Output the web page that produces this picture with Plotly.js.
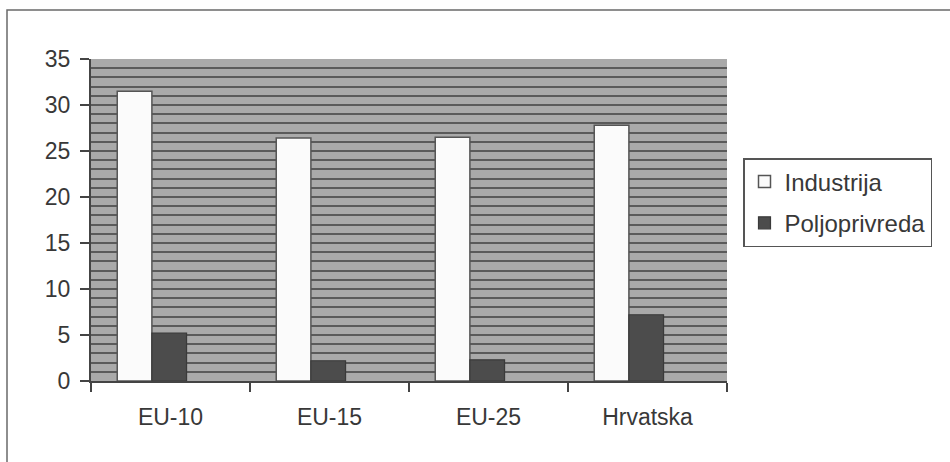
<!DOCTYPE html>
<html>
<head>
<meta charset="utf-8">
<script src="https://cdn.plot.ly/plotly-3.0.1.min.js"></script>
<style>
html,body{margin:0;padding:0;background:#ffffff;}
#chart{width:950px;height:462px;}
</style>
</head>
<body>
<div id="chart"></div>
<script>
const categories = ["EU-10", "EU-15", "EU-25", "Hrvatska"];
const industrija = [31.5, 26.4, 26.5, 27.8];
const poljoprivreda = [5.2, 2.2, 2.3, 7.2];
const seriesNames = ["Industrija", "Poljoprivreda"];
const yTicks = [0, 5, 10, 15, 20, 25, 30, 35];

const textColor = "#383838";
const fontFam = "Liberation Sans, Arial, sans-serif";

const traces = [
  {
    type: "bar",
    name: seriesNames[0],
    x: categories,
    y: industrija,
    offset: -0.335,
    width: 0.218,
    legendgroup: "a",
    marker: {color: "#fbfbfb", line: {color: "#555555", width: 1.5}},
    hoverinfo: "x+y"
  },
  {
    type: "bar",
    name: seriesNames[1],
    x: categories,
    y: poljoprivreda,
    offset: -0.117,
    width: 0.218,
    legendgroup: "b",
    marker: {color: "#4c4c4c", line: {color: "#3a3a3a", width: 1.2}},
    hoverinfo: "x+y"
  }
];

const layout = {
  width: 950,
  height: 462,
  margin: {l: 91, r: 223, t: 59, b: 81, pad: 0},
  paper_bgcolor: "#ffffff",
  plot_bgcolor: "#a9a9a9",
  font: {family: fontFam, color: textColor, size: 23},
  showlegend: true,
  barmode: "group",
  xaxis: {
    type: "category",
    range: [-0.5, 3.5],
    tickson: "boundaries",
    ticks: "outside",
    ticklen: 9,
    tickwidth: 1.5,
    tickcolor: "#444444",
    showline: true,
    linecolor: "#444444",
    linewidth: 2,
    showgrid: false,
    zeroline: false,
    tickfont: {family: fontFam, size: 23, color: textColor},
    ticklabelstandoff: 14,
    fixedrange: true
  },
  yaxis: {
    range: [0, 35],
    tickvals: yTicks,
    ticktext: yTicks.map(String),
    ticks: "outside",
    ticklen: 9,
    tickwidth: 1.5,
    tickcolor: "#444444",
    showline: true,
    linecolor: "#444444",
    linewidth: 2,
    showgrid: true,
    gridcolor: "#5a5a5a",
    gridwidth: 2,
    zeroline: false,
    minor: {dtick: 1, showgrid: true, gridcolor: "#5a5a5a", gridwidth: 2, ticks: ""},
    tickfont: {family: fontFam, size: 23, color: textColor},
    ticklabelstandoff: 5,
    fixedrange: true
  },
  legend: {
    xref: "paper", yref: "paper",
    bgcolor: "#ffffff",
    bordercolor: "#555555",
    borderwidth: 1.5,
    font: {family: fontFam, size: 24, color: textColor},
    traceorder: "grouped",
    tracegroupgap: 7,
    itemwidth: 30
  },
  shapes: [
    {
      type: "rect", xref: "paper", yref: "paper",
      x0: (7 - 91) / 636, x1: 1.5,
      y0: -0.5, y1: 1 + (59 - 10) / 322,
      line: {color: "#6a6a6a", width: 1.5},
      fillcolor: "rgba(0,0,0,0)",
      layer: "below"
    }
  ]
};
layout.legend.x = (743 - 91) / 636;
layout.legend.y = 1 - (158 - 59) / 322;
layout.legend.xanchor = "left";
layout.legend.yanchor = "top";

Plotly.newPlot("chart", traces, layout, {displayModeBar: false, staticPlot: true});
</script>
</body>
</html>
